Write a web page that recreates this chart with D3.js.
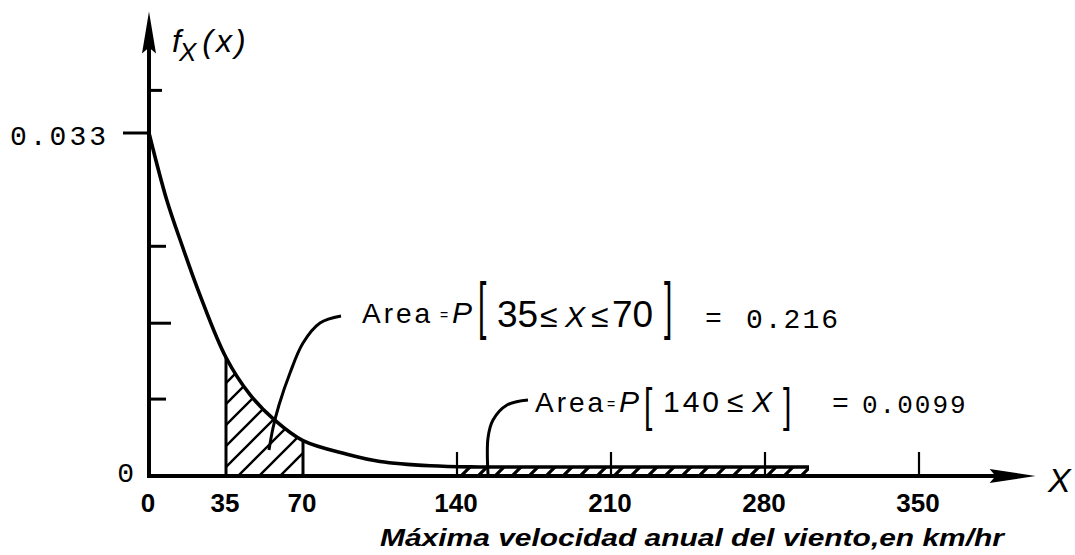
<!DOCTYPE html>
<html>
<head>
<meta charset="utf-8">
<script src="https://cdn.jsdelivr.net/npm/d3@7"></script>
<style>
  html, body { margin: 0; padding: 0; background: #fff; }
  svg { display: block; }
</style>
</head>
<body>
<svg id="chart" width="1075" height="555"></svg>
<script>
// ---- data ----
const curveX = [0, 8, 15, 23, 35, 46, 57, 70, 90, 105, 128, 150, 200, 250, 300];
const curveY = [0.0330, 0.0266, 0.0222, 0.0175, 0.0114, 0.0078, 0.0054, 0.0034, 0.0021, 0.0014, 0.00098, 0.00087, 0.00087, 0.00087, 0.00087];
const xTickValues = [0, 35, 70, 140, 210, 280, 350];
const xTickLabels = ["0", "35", "70", "140", "210", "280", "350"];
const xUpTicks = [140, 210, 280, 350];
const yLabelValues = [0, 0.033];
const yLabelTexts = ["0", "0.033"];
const yMinorTicks = [0.0074, 0.0147, 0.0221, 0.0371];
const band1 = [35, 70];
const band2 = [140, 300];
const xAxisMax = 403;    // where the x-axis arrow tip is
const yAxisMax = 0.0447; // where the y-axis arrow tip is
const xTitle = "Máxima velocidad anual del viento,en km/hr";

// ---- scales ----
const x = d3.scaleLinear().domain([0, 350]).range([149, 919]);
const y = d3.scaleLinear().domain([0, 0.033]).range([476, 133]);

const svg = d3.select("#chart");
const ink = "#000";
const pts = curveX.map((v, i) => [v, curveY[i]]);
const crv = d3.curveCatmullRom.alpha(0.5);

// hatch patterns
const defs = svg.append("defs");
const pat = defs.append("pattern").attr("id", "hatch")
  .attr("patternUnits", "userSpaceOnUse").attr("width", 21).attr("height", 21);
pat.append("path").attr("d", "M-3,24 L24,-3 M-6,6 L6,-6 M15,27 L27,15")
  .attr("stroke", ink).attr("stroke-width", 2.4);
const pat2 = defs.append("pattern").attr("id", "hatch2")
  .attr("patternUnits", "userSpaceOnUse").attr("width", 17).attr("height", 17)
  .attr("patternTransform", "translate(0,2)");
pat2.append("path").attr("d", "M-3,20 L20,-3 M-6,6 L6,-6 M11,23 L23,11")
  .attr("stroke", ink).attr("stroke-width", 3.2);

const area = d3.area().x(d => x(d[0])).y0(y(0)).y1(d => y(d[1])).curve(crv);
[[band1, "c1", "url(#hatch)"], [band2, "c2", "url(#hatch2)"]].forEach(([b, id, fill]) => {
  defs.append("clipPath").attr("id", id).append("rect")
    .attr("x", x(b[0])).attr("y", 0).attr("width", x(b[1]) - x(b[0])).attr("height", 555);
  svg.append("path").datum(pts).attr("d", area).attr("fill", fill)
    .attr("clip-path", `url(#${id})`);
});

// vertical bounds of the first shaded region
band1.forEach(v => {
  const i = curveX.indexOf(v);
  svg.append("line").attr("x1", x(v)).attr("x2", x(v))
    .attr("y1", y(0)).attr("y2", y(curveY[i]))
    .attr("stroke", ink).attr("stroke-width", 3);
});

// curve
svg.append("path").datum(pts)
  .attr("d", d3.line().x(d => x(d[0])).y(d => y(d[1])).curve(crv))
  .attr("fill", "none").attr("stroke", ink).attr("stroke-width", 3.6);

// axes
svg.append("line").attr("x1", x(0)).attr("x2", x(xAxisMax) - 30)
  .attr("y1", y(0)).attr("y2", y(0)).attr("stroke", ink).attr("stroke-width", 4);
svg.append("line").attr("x1", x(0)).attr("x2", x(0))
  .attr("y1", y(0) + 2).attr("y2", y(yAxisMax) + 30).attr("stroke", ink).attr("stroke-width", 4);
// arrowheads
const tipX = x(xAxisMax), tipY = y(yAxisMax);
svg.append("path").attr("d", `M${tipX},${y(0)} L${tipX - 46},${y(0) - 7} L${tipX - 40},${y(0)} L${tipX - 46},${y(0) + 7} Z`).attr("fill", ink);
svg.append("path").attr("d", `M${x(0)},${tipY} L${x(0) - 7},${tipY + 42} L${x(0)},${tipY + 36} L${x(0) + 7},${tipY + 42} Z`).attr("fill", ink);

// x ticks (upward) and labels
svg.selectAll(".xt").data(xUpTicks).join("line")
  .attr("x1", d => x(d)).attr("x2", d => x(d))
  .attr("y1", y(0)).attr("y2", y(0) - 24).attr("stroke", ink).attr("stroke-width", 2.2);
svg.selectAll(".xl").data(xTickValues).join("text")
  .attr("x", d => x(d) - 1).attr("y", 512)
  .attr("text-anchor", "middle")
  .attr("font-family", "Liberation Sans, Arial, sans-serif").attr("font-weight", "bold")
  .attr("font-size", 26).text((d, i) => xTickLabels[i]);

// y ticks
svg.selectAll(".yt").data(yMinorTicks).join("line")
  .attr("x1", x(0)).attr("x2", (d, i) => x(0) + [17, 22, 17, 13][i])
  .attr("y1", d => y(d)).attr("y2", d => y(d)).attr("stroke", ink).attr("stroke-width", 3);
svg.append("line").attr("x1", x(0) - 26).attr("x2", x(0))
  .attr("y1", y(0.033)).attr("y2", y(0.033)).attr("stroke", ink).attr("stroke-width", 3);
svg.selectAll(".yl").data(yLabelValues).join("text")
  .attr("x", (d, i) => i === 0 ? x(0) - 15 : x(0) - 40)
  .attr("y", d => y(d) + (d === 0 ? 6 : 12))
  .attr("text-anchor", "end")
  .attr("font-family", "Liberation Mono, DejaVu Sans Mono, monospace")
  .attr("font-size", 28).attr("letter-spacing", (d, i) => i === 0 ? 0 : 3)
  .text((d, i) => yLabelTexts[i]);

// axis titles
svg.append("text").attr("x", 380).attr("y", 546)
  .attr("font-family", "Liberation Sans, Arial, sans-serif")
  .attr("font-weight", "bold").attr("font-style", "italic").attr("font-size", 24)
  .attr("textLength", 624).attr("lengthAdjust", "spacingAndGlyphs")
  .text(xTitle);
svg.append("text").attr("x", 1048).attr("y", 492)
  .attr("font-family", "Liberation Sans, Arial, sans-serif")
  .attr("font-style", "italic").attr("font-size", 34).text("X");
const yt = svg.append("text").attr("x", 172).attr("y", 52)
  .attr("font-family", "Liberation Sans, Arial, sans-serif")
  .attr("font-style", "italic").attr("font-size", 32);
yt.append("tspan").text("f");
yt.append("tspan").attr("dy", 9).attr("dx", -2).attr("font-size", 26).text("X");
yt.append("tspan").attr("dy", -9).attr("dx", 6).attr("letter-spacing", 3).text("(x)");

// annotations
const sans = "Liberation Sans, Arial, sans-serif";
const mono = "Liberation Mono, DejaVu Sans Mono, monospace";
function t(xp, yp, s, opts = {}) {
  return svg.append("text").attr("x", xp).attr("y", yp)
    .attr("font-family", opts.family || sans).attr("font-size", opts.size || 28)
    .attr("font-style", opts.italic ? "italic" : "normal")
    .attr("letter-spacing", opts.ls || 0).text(s);
}
function bracket(ch, xp, top, h) {
  const fs = 30, k = h / (0.94 * fs);
  svg.append("text").attr("transform", `translate(${xp},${top + 0.73 * fs * k}) scale(1,${k})`)
    .attr("font-family", sans).attr("font-size", fs).text(ch);
}
// leader lines
const leader = d3.line().curve(d3.curveCatmullRom);
svg.append("path").attr("d", leader([[269, 450], [273, 428], [279, 405], [290, 373], [303, 343], [320, 323], [341, 316]]))
  .attr("fill", "none").attr("stroke", ink).attr("stroke-width", 3);
svg.append("path").attr("d", leader([[488, 474], [488, 438], [493, 420], [507, 405], [528, 400]]))
  .attr("fill", "none").attr("stroke", ink).attr("stroke-width", 3);

// annotation 1
t(362, 323, "Area", { size: 28, ls: 3 });
t(440, 320, "=", { size: 14 });
t(452, 323, "P", { size: 30, italic: true });
bracket("[", 478, 281, 59);
t(497, 327, "35", { size: 37 });
t(540, 327, "≤", { size: 32 });
t(565, 327, "X", { size: 30, italic: true });
t(591, 327, "≤", { size: 32 });
t(612, 327, "70", { size: 37 });
bracket("]", 664, 281, 59);
t(705, 327, "=", { family: mono, size: 28 });
t(746, 328, "0.216", { family: mono, size: 28, ls: 2 });

// annotation 2
t(535, 412, "Area", { size: 28, ls: 3 });
t(607, 409, "=", { size: 14 });
t(619, 412, "P", { size: 30, italic: true });
bracket("[", 644, 388, 43);
t(663, 412, "140", { size: 30, ls: 3 });
t(727, 412, "≤", { size: 30 });
t(752, 412, "X", { size: 30, italic: true });
bracket("]", 783, 388, 43);
t(832, 412, "=", { family: mono, size: 28 });
t(862, 413, "0.0099", { family: mono, size: 26, ls: 2 });
</script>
</body>
</html>
